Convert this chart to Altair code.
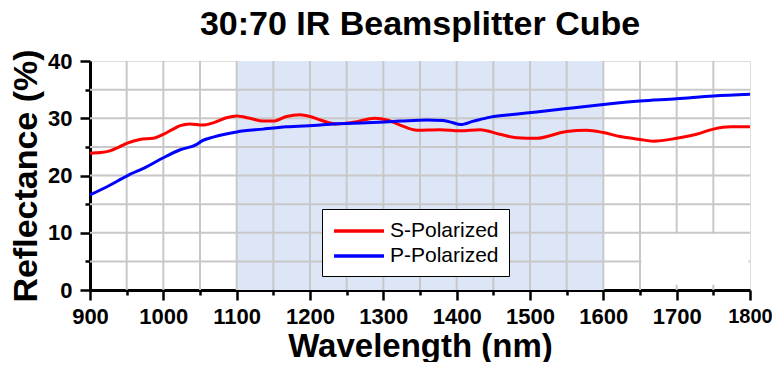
import altair as alt
import pandas as pd

# ---- data ----
s_wavelength = [900, 915, 927, 940, 950, 968, 986, 1000, 1012, 1023, 1036, 1054, 1068, 1086, 1100,
                1118, 1136, 1150, 1168, 1186, 1200, 1214, 1236, 1259, 1289, 1305, 1323, 1346, 1377,
                1405, 1432, 1459, 1482, 1509, 1550, 1577, 1600, 1623, 1650, 1668, 1700, 1727, 1750,
                1773, 1800]
s_reflectance = [23.9, 24.0, 24.3, 25.0, 25.6, 26.3, 26.5, 27.2, 28.0, 28.7, 29.0, 28.8, 29.2, 30.1, 30.4,
                 30.0, 29.5, 29.5, 30.3, 30.6, 30.3, 29.7, 29.0, 29.3, 30.0, 29.7, 28.8, 27.9, 28.0,
                 27.8, 28.0, 27.2, 26.6, 26.5, 27.7, 27.9, 27.5, 26.8, 26.3, 26.0, 26.5, 27.2, 28.1,
                 28.5, 28.5]

p_wavelength = [900, 927, 950, 977, 1000, 1023, 1045, 1052, 1068, 1100, 1136, 1168, 1214, 1232, 1277,
                1323, 1359, 1382, 1395, 1405, 1423, 1446, 1480, 1509, 1550, 1600, 1650, 1700, 1750, 1800]
p_reflectance = [16.6, 18.3, 19.9, 21.5, 23.1, 24.5, 25.4, 26.0, 26.7, 27.6, 28.1, 28.5, 28.8, 29.0, 29.2,
                 29.5, 29.7, 29.6, 29.2, 28.9, 29.5, 30.2, 30.7, 31.1, 31.7, 32.4, 33.0, 33.4, 33.9, 34.2]

series_names = ["S-Polarized", "P-Polarized"]
series_colors = ["#ff0000", "#0000ff"]

band_start = [1100]
band_end = [1600]
band_bottom = [0]
band_top = [40]

x_ticks = list(range(900, 1801, 50))
y_ticks = list(range(0, 41, 5))
x_grid = list(range(950, 1800, 50))
y_grid = list(range(5, 40, 5))

# blank patch in the lower right of the reference plot
patch_x0 = [1652]
patch_x1 = [1798]
patch_y0 = [0.9]
patch_y1 = [9.8]

FONT = "Liberation Sans"

lines_df = pd.concat([
    pd.DataFrame({"wavelength": s_wavelength, "reflectance": s_reflectance, "series": series_names[0]}),
    pd.DataFrame({"wavelength": p_wavelength, "reflectance": p_reflectance, "series": series_names[1]}),
])

x_scale = alt.Scale(domain=[900, 1800], nice=False, zero=False)
y_scale = alt.Scale(domain=[0, 40], nice=False, zero=True)

x_axis = alt.Axis(
    values=x_ticks, format="d", title="Wavelength (nm)", grid=False,
    labelExpr="datum.value % 100 === 0 ? datum.label : ''",
    tickSize={"condition": {"test": "datum.value % 100 === 0", "value": 10}, "value": 5},
    tickColor="black", tickWidth=2.5, domainColor="black", domainWidth=3,
    labelFont=FONT, labelFontWeight="bold", labelColor="black",
    labelFontSize={"condition": {"test": "datum.value === 1800", "value": 20}, "value": 22},
    labelPadding=6, labelFlush=False, labelOverlap=False,
    titleFont=FONT, titleFontSize=33, titleFontWeight="bold", titleColor="black",
    titleBaseline="alphabetic", titleY=66,
)
y_axis = alt.Axis(
    values=y_ticks, format="d", title="Reflectance (%)", grid=False,
    labelExpr="datum.value % 10 === 0 ? datum.label : ''",
    tickSize={"condition": {"test": "datum.value % 10 === 0", "value": 10}, "value": 5},
    tickColor="black", tickWidth=2.5, domainColor="black", domainWidth=3,
    labelFont=FONT, labelFontSize=22, labelFontWeight="bold", labelColor="black",
    labelPadding=8, labelFlush=False, labelOverlap=False,
    titleFont=FONT, titleFontSize=34, titleFontWeight="bold", titleColor="black",
    titleBaseline="alphabetic", titleX=-54, titleY=114.5,
)

band = alt.Chart(pd.DataFrame({"x0": band_start, "x1": band_end, "y0": band_bottom, "y1": band_top})).mark_rect(
    color="#dde6f6"
).encode(
    x=alt.X("x0:Q", scale=x_scale, axis=x_axis),
    x2="x1:Q",
    y=alt.Y("y0:Q", scale=y_scale, axis=y_axis),
    y2="y1:Q",
)

vgrid = alt.Chart(pd.DataFrame({"g": x_grid})).mark_rule(color="#c8c8c8", strokeWidth=2).encode(
    x=alt.X("g:Q", scale=x_scale, axis=x_axis)
)
hgrid = alt.Chart(pd.DataFrame({"g": y_grid})).mark_rule(color="#c8c8c8", strokeWidth=2).encode(
    y=alt.Y("g:Q", scale=y_scale, axis=y_axis)
)

patch = alt.Chart(pd.DataFrame({"x0": patch_x0, "x1": patch_x1, "y0": patch_y0, "y1": patch_y1})).mark_rect(
    color="white"
).encode(
    x=alt.X("x0:Q", scale=x_scale, axis=x_axis), x2="x1:Q",
    y=alt.Y("y0:Q", scale=y_scale, axis=y_axis), y2="y1:Q",
)

lines = alt.Chart(lines_df).mark_line(strokeWidth=3, interpolate="monotone").encode(
    x=alt.X("wavelength:Q", scale=x_scale, axis=x_axis),
    y=alt.Y("reflectance:Q", scale=y_scale, axis=y_axis),
    color=alt.Color(
        "series:N",
        scale=alt.Scale(domain=series_names, range=series_colors),
        legend=alt.Legend(
            title=None, orient="none", legendX=232, legendY=148, direction="vertical",
            fillColor="white", strokeColor="black", padding=10,
            symbolType="M-2.5,0L2.5,0", symbolSize=400, symbolStrokeWidth=3.5,
            symbolOffset=15,
            labelFont=FONT, labelFontSize=21, labelColor="black", labelOffset=19,
            rowPadding=3, labelLimit=400,
        ),
    ),
    detail="series:N",
)

chart = alt.layer(band, vgrid, hgrid, patch, lines).properties(
    width=660, height=229,
    autosize=alt.AutoSizeParams(type="none"),
    padding={"left": 82, "top": 53, "right": 22, "bottom": 72},
    title=alt.TitleParams(
        "30:70 IR Beamsplitter Cube", font=FONT, fontSize=34, fontWeight="bold",
        color="black", anchor="middle", offset=7,
    ),
).configure_view(stroke="black", strokeWidth=3).configure(background="white")

chart.save("out.html", embed_options={"renderer": "svg", "actions": False})
